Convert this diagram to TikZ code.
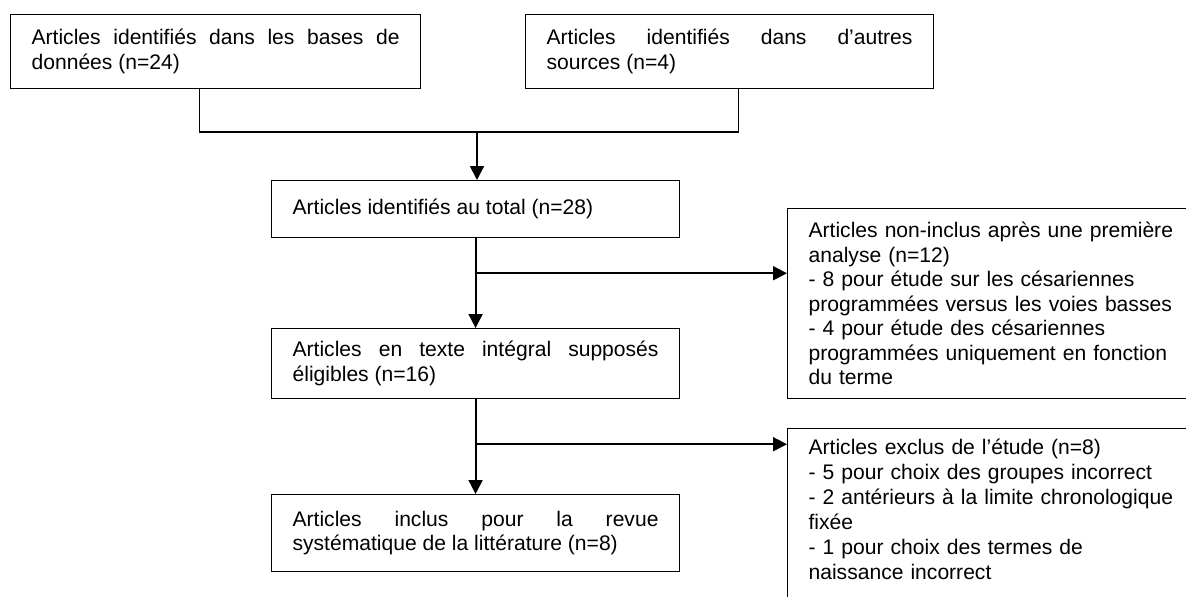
\documentclass[tikz,border=0pt]{standalone}
\usepackage{fontspec}
\setmainfont{Liberation Sans}
\usetikzlibrary{arrows.meta}

\begin{document}
\begin{tikzpicture}[x=0.02cm,y=-0.02cm,>={Triangle[length=0.28cm,width=0.28cm]},
        box/.style={draw,line width=0.7pt,anchor=north west,inner xsep=0.42cm,inner ysep=0pt,
          text width=7.32cm,align=justify,font=\fontsize{12}{13.9}\selectfont},
        side/.style={box,text width=8.4cm,align=left},
        flow/.style={->,line width=1.1pt}]
        \useasboundingbox (0,0) rectangle (1186,596);
        \clip (0,0) rectangle (1186,596);

        \node[box,text width=7.36cm,minimum height=1.48cm] (bases) at (10,14) {Articles identifiés dans les bases de\linebreak données (n=24)};
        \node[box,minimum height=1.48cm] (autres) at (525,14) {Articles identifiés dans d’autres\linebreak sources (n=4)};
        \node[box,minimum height=1.14cm] (total) at (271,180) {Articles identifiés au total (n=28)};
        \node[box,minimum height=1.4cm] (eligibles) at (271,328) {Articles en texte intégral supposés\linebreak éligibles (n=16)};
        \node[box,minimum height=1.54cm] (inclus) at (271,494) {Articles inclus pour la revue\linebreak systématique de la littérature (n=8)};
        \node[side,minimum height=3.8cm] (noninclus) at (787,208) {Articles non-inclus après une première\\analyse (n=12)\\- 8 pour étude sur les césariennes\\programmées versus les voies basses\\- 4 pour étude des césariennes\\programmées uniquement en fonction\\du terme};
        \node[side,inner ysep=0.2cm,font=\fontsize{12}{14.3}\selectfont] (exclus) at (787,428) {Articles exclus de l’étude (n=8)\\- 5 pour choix des groupes incorrect\\- 2 antérieurs à la limite chronologique\\fixée\\- 1 pour choix des termes de\\naissance incorrect\\\mbox{}};

        \coordinate (join) at (477,132);
        \draw[line width=0.7pt] ([xshift=-0.32cm]bases.south) |- (join) -| ([xshift=0.18cm]autres.south);
        \draw[flow] (join) -- (join |- total.north);
        \draw[flow] (total.south) -- (eligibles.north);
        \path (total.south) ++(0,35) coordinate (split1);
        \draw[flow] (split1) -- (split1 -| noninclus.west);
        \draw[flow] (eligibles.south) -- (inclus.north);
        \path (eligibles.south) ++(0,45) coordinate (split2);
        \draw[flow] (split2) -- (split2 -| exclus.west);
\end{tikzpicture}
\end{document}
